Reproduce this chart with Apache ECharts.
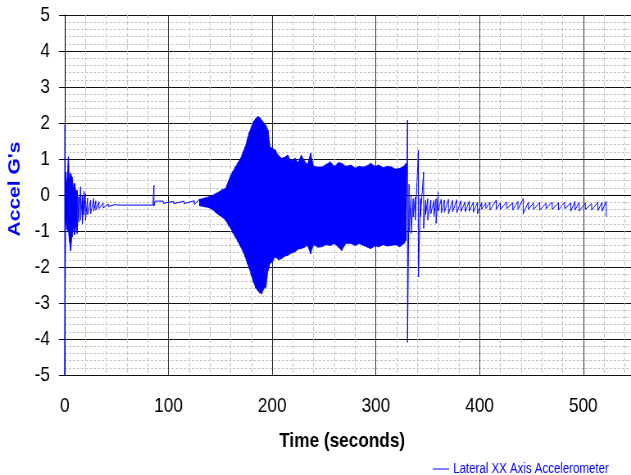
<!DOCTYPE html>
<html><head><meta charset="utf-8">
<script src="https://cdn.jsdelivr.net/npm/echarts@6/dist/echarts.min.js"></script>
<style>
html,body{margin:0;padding:0;background:#fff;overflow:hidden;width:631px;height:475px}
/* the reference picture is horizontally compressed; draw wider and squeeze */
#c{width:770px;height:475px;transform:scaleX(0.8195);transform-origin:0 0}
</style>
</head><body><div id="c"></div>
<script>
// Envelope of the accelerometer trace (seconds, G)
const times = [0,1,2,3.5,4.5,5.7,7,8.5,9.5,11,12,13.5,15.3,17,18.5,20,22,25,28,30,33,37,42,48,55,65,75,85,86,87,95,105,115,125,130,135,139,143,146,149,152,155,158,160,162,164.5,167,169.5,172,174,176,178,180,182,184,186,188,190,192,194,196,198,200,203,206,209,212,215,218,222,225,228,231,234,237,240,244,248,252,256,260,264,267,271,276,280,284,288,292,295,299,303,307,311,315,319,323,327,329,330.5,332,334,336,338,341,343,346,348,350,353,356,358,360,363,366,370,374,378,382,386,390,394,398,402,406,410,416,420,426,432,437,442,447,452,458,464,470,476,482,488,492,496,502,508,514,518,522];
const upper = [1.95,0.64,0.3,1.06,0.45,0.6,0.5,0.2,0.32,0.1,0.13,-0.05,0.23,0.0,0.1,0.04,-0.08,-0.14,-0.1,-0.16,-0.19,-0.22,-0.25,-0.27,-0.28,-0.28,-0.28,-0.28,0.27,-0.17,-0.17,-0.18,-0.17,-0.16,-0.12,-0.08,-0.05,0.0,0.05,0.09,0.15,0.18,0.4,0.55,0.65,0.78,0.9,1.02,1.2,1.34,1.55,1.75,1.9,2.04,2.12,2.18,2.15,2.08,2.0,1.94,1.8,1.34,1.3,1.25,1.1,1.02,1.05,1.11,0.95,1.02,0.9,1.11,0.95,0.85,1.16,0.8,0.78,0.78,0.85,0.92,0.8,0.9,0.88,0.8,0.83,0.75,0.8,0.78,0.82,0.88,0.8,0.83,0.76,0.8,0.78,0.72,0.74,0.8,0.88,2.08,0.3,0.0,-0.1,-0.05,1.25,-0.1,0.64,-0.14,-0.1,-0.14,-0.15,-0.1,0.09,-0.12,-0.14,-0.12,-0.15,-0.13,-0.16,-0.19,-0.17,-0.2,-0.2,-0.21,-0.22,-0.2,-0.14,-0.22,-0.2,-0.22,-0.18,-0.1,-0.2,-0.22,-0.21,-0.23,-0.2,-0.22,-0.2,-0.22,-0.18,-0.2,-0.22,-0.24,-0.2,-0.2,-0.18];
const lower = [-5,-0.7,-0.95,-1.0,-1.3,-1.54,-1.17,-0.9,-1.1,-0.85,-1.07,-0.75,-0.7,-0.8,-0.55,-0.7,-0.55,-0.52,-0.45,-0.42,-0.38,-0.36,-0.32,-0.31,-0.31,-0.31,-0.31,-0.31,-0.31,-0.22,-0.23,-0.24,-0.24,-0.26,-0.3,-0.33,-0.35,-0.42,-0.5,-0.56,-0.62,-0.7,-0.85,-0.93,-1.05,-1.17,-1.3,-1.44,-1.58,-1.72,-1.9,-2.05,-2.25,-2.42,-2.58,-2.65,-2.72,-2.74,-2.6,-2.56,-2.1,-1.9,-1.86,-1.72,-1.8,-1.77,-1.7,-1.68,-1.62,-1.58,-1.5,-1.49,-1.45,-1.4,-1.63,-1.38,-1.45,-1.44,-1.38,-1.4,-1.35,-1.45,-1.54,-1.35,-1.35,-1.4,-1.35,-1.4,-1.45,-1.49,-1.42,-1.44,-1.38,-1.42,-1.4,-1.38,-1.44,-1.35,-1.26,-4.09,-1.0,-1.07,-0.61,-0.7,-2.28,-0.6,-0.93,-0.55,-0.7,-0.52,-0.6,-0.79,-0.45,-0.5,-0.48,-0.52,-0.47,-0.5,-0.46,-0.47,-0.45,-0.48,-0.52,-0.4,-0.38,-0.42,-0.4,-0.4,-0.38,-0.42,-0.4,-0.52,-0.4,-0.4,-0.42,-0.38,-0.4,-0.42,-0.38,-0.45,-0.42,-0.45,-0.4,-0.42,-0.44,-0.45,-0.6];

const seriesName = 'Lateral XX Axis Accelerometer';
const xName = 'Time (seconds)';
const yName = "Accel G's";
const xRange = [0, 546];
const yRange = [-5, 5];
const bandRanges = [[1, 12], [128, 329]]; // dense parts drawn as filled envelope

const BLUE = '#0000ff';
const FONT = '"Liberation Sans", Arial, sans-serif';

// zig-zag trace between the read envelope values
const trace = [];
times.forEach((t, i) => { trace.push([t, upper[i]]); trace.push([t, lower[i]]); });
const bandRows = [];
times.forEach((t, i) => {
  bandRanges.forEach((r, g) => {
    if (t >= r[0] && t <= r[1]) bandRows.push([t, upper[i], lower[i], g]);
  });
});

const chart = echarts.init(document.getElementById('c'), null, {renderer: 'canvas'});
chart.setOption({
  backgroundColor: '#fff',
  animation: false,
  grid: {left: 76, right: 0, top: 15, bottom: 100, containLabel: false},
  legend: {
    data: [{name: seriesName, icon: 'rect'}],
    left: 523, top: 457, itemWidth: 20, itemHeight: 1,
    textStyle: {color: BLUE, fontSize: 14, fontFamily: FONT}
  },
  xAxis: {
    type: 'value', min: xRange[0], max: xRange[1], interval: 100,
    name: xName, nameLocation: 'middle', nameGap: 56,
    nameTextStyle: {fontSize: 21, fontWeight: 'bold', fontFamily: FONT, color: '#000', padding: [0, 14, 0, 0]},
    axisLine: {show: true, lineStyle: {color: '#000', width: 1}},
    axisTick: {show: true, inside: false, length: 7, lineStyle: {color: '#000'}},
    axisLabel: {fontSize: 21, fontFamily: FONT, color: '#000', margin: 21, showMaxLabel: false,
      formatter: v => (v % 100 === 0 ? String(v) : '')},
    splitLine: {show: true, lineStyle: {color: '#333', width: 1}},
    minorTick: {show: false, splitNumber: 5},
    minorSplitLine: {show: true, lineStyle: {color: '#c4c4c4', type: [4, 2], width: 1}}
  },
  yAxis: {
    type: 'value', min: yRange[0], max: yRange[1], interval: 1,
    name: yName, nameLocation: 'middle', nameGap: 50, nameRotate: 90,
    nameTextStyle: {fontSize: 21, fontWeight: 'bold', fontFamily: FONT, color: BLUE, padding: [0, 0, 0, 12]},
    axisLine: {show: true, onZero: false, lineStyle: {color: '#000', width: 1}},
    axisTick: {show: true, inside: false, length: 7, lineStyle: {color: '#000'}},
    axisLabel: {fontSize: 21, fontFamily: FONT, color: '#000', margin: 18},
    splitLine: {show: true, lineStyle: {color: '#111', width: 1}},
    minorTick: {show: false, splitNumber: 5},
    minorSplitLine: {show: true, lineStyle: {color: '#c4c4c4', type: [3, 2], width: 1}}
  },
  series: [
    {
      name: 'envelope', type: 'custom', data: bandRows, silent: true, z: 2,
      clip: true,
      encode: {x: 0, y: [1, 2]},
      renderItem: (params, api) => {
        const i = params.dataIndex;
        if (i >= bandRows.length - 1) return null;
        const a = bandRows[i], b = bandRows[i + 1];
        if (a[3] !== b[3]) return null;
        const pts = [api.coord([a[0], a[1]]), api.coord([b[0], b[1]]),
                     api.coord([b[0], b[2]]), api.coord([a[0], a[2]])];
        return {type: 'polygon', shape: {points: pts},
                style: {fill: BLUE, stroke: BLUE, lineWidth: 0.6}};
      }
    },
    {name: seriesName, type: 'line', data: trace, symbol: 'none', clip: true,
     lineStyle: {width: 1, color: BLUE}, itemStyle: {color: BLUE}, z: 3}
  ]
});
</script></body></html>
